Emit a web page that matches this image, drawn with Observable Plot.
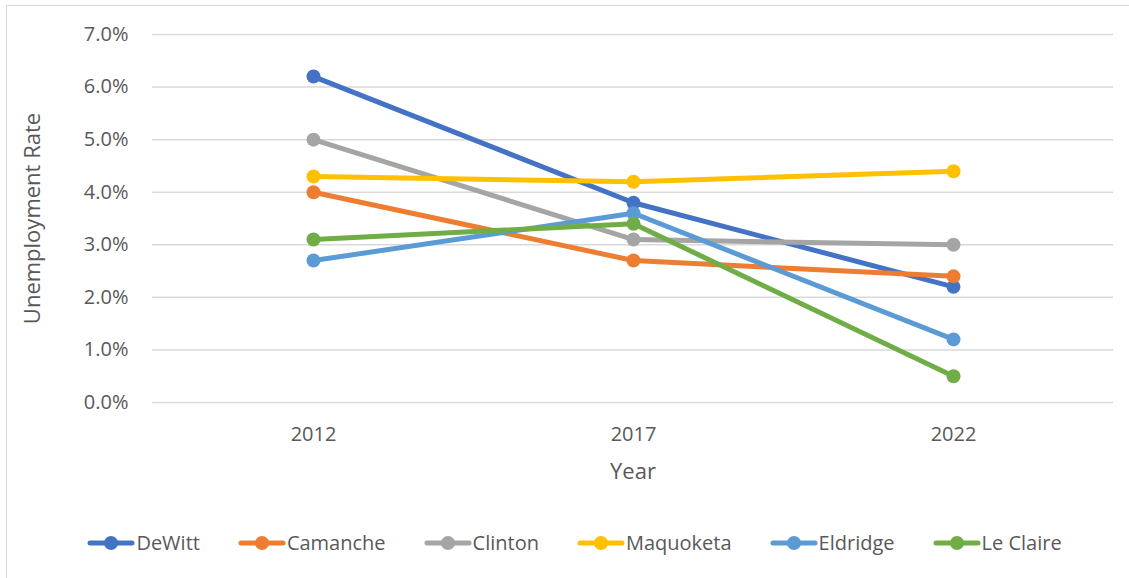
<!DOCTYPE html>
<html>
<head>
<meta charset="utf-8">
<script src="https://cdn.jsdelivr.net/npm/d3@7"></script>
<script src="https://cdn.jsdelivr.net/npm/@observablehq/plot@0.6"></script>
<style>
  html, body { margin: 0; padding: 0; background: #fff; }
  body { width: 1129px; height: 578px; position: relative; overflow: hidden; font-family: "Open Sans", "Noto Sans", sans-serif; }
  #frame { position: absolute; left: 6px; top: 5px; width: 1130px; height: 580px; border: 1px solid #d9d9d9; box-sizing: border-box; }
  #chart { position: absolute; left: 0; top: 0; }
  #chart svg g[aria-label$="tick label"] text { font-size: 20px !important; }
  #chart svg g[aria-label$="axis label"] text { font-size: 22px !important; }
  #legend { position: absolute; left: 0; top: 529px; width: 1129px; display: flex; justify-content: center; gap: 38px; padding-left: 20px; box-sizing: border-box; color: #595959; font-size: 20px; }
  #legend .item { display: flex; align-items: center; gap: 1px; }
</style>
</head>
<body>
<div id="frame"></div>
<div id="chart"></div>
<div id="legend"></div>
<script>
const years = ["2012", "2017", "2022"];
const cities = ["DeWitt", "Camanche", "Clinton", "Maquoketa", "Eldridge", "Le Claire"];
const colors = ["#4472C4", "#ED7D31", "#A5A5A5", "#FFC000", "#5B9BD5", "#70AD47"];
const DeWitt = [6.2, 3.8, 2.2];
const Camanche = [4.0, 2.7, 2.4];
const Clinton = [5.0, 3.1, 3.0];
const Maquoketa = [4.3, 4.2, 4.4];
const Eldridge = [2.7, 3.6, 1.2];
const LeClaire = [3.1, 3.4, 0.5];
const yTicks = [0, 0.01, 0.02, 0.03, 0.04, 0.05, 0.06, 0.07];

const seriesValues = [DeWitt, Camanche, Clinton, Maquoketa, Eldridge, LeClaire];
const data = [];
cities.forEach((c, i) => years.forEach((y, j) => data.push({city: c, year: y, value: seriesValues[i][j] / 100})));

const chart = Plot.plot({
  width: 1129,
  height: 500,
  marginLeft: 152,
  marginRight: 16,
  marginTop: 34,
  marginBottom: 98,
  style: {fontFamily: "'Open Sans', 'Noto Sans', sans-serif", fontSize: "20px", color: "#595959", background: "transparent"},
  x: {type: "point", domain: years, padding: 0.5},
  y: {domain: [0, 0.07]},
  color: {domain: cities, range: colors},
  marks: [
    Plot.gridY(yTicks, {stroke: "#d9d9d9", strokeOpacity: 1, strokeWidth: 1.5}),
    Plot.axisY(yTicks, {tickSize: 0, tickPadding: 24, fontSize: 20, tickFormat: d3.format(".1%"), label: "Unemployment Rate", labelAnchor: "center", labelArrow: "none", labelOffset: 128, fill: "#595959"}),
    Plot.axisX({tickSize: 0, tickPadding: 24, fontSize: 20, label: "Year", labelAnchor: "center", labelArrow: "none", labelOffset: 76, fill: "#595959"}),
    Plot.line(data, {x: "year", y: "value", z: "city", stroke: "city", strokeWidth: 5, strokeLinecap: "round", strokeLinejoin: "round"}),
    Plot.dot(data, {x: "year", y: "value", fill: "city", r: 7})
  ]
});
document.getElementById("chart").appendChild(chart);

const legend = document.getElementById("legend");
cities.forEach((c, i) => {
  const item = document.createElement("div");
  item.className = "item";
  item.innerHTML = `<svg width="48" height="16"><line x1="3" y1="8" x2="45" y2="8" stroke="${colors[i]}" stroke-width="5" stroke-linecap="round"/><circle cx="24" cy="8" r="7" fill="${colors[i]}"/></svg><span>${c}</span>`;
  legend.appendChild(item);
});
</script>
</body>
</html>
